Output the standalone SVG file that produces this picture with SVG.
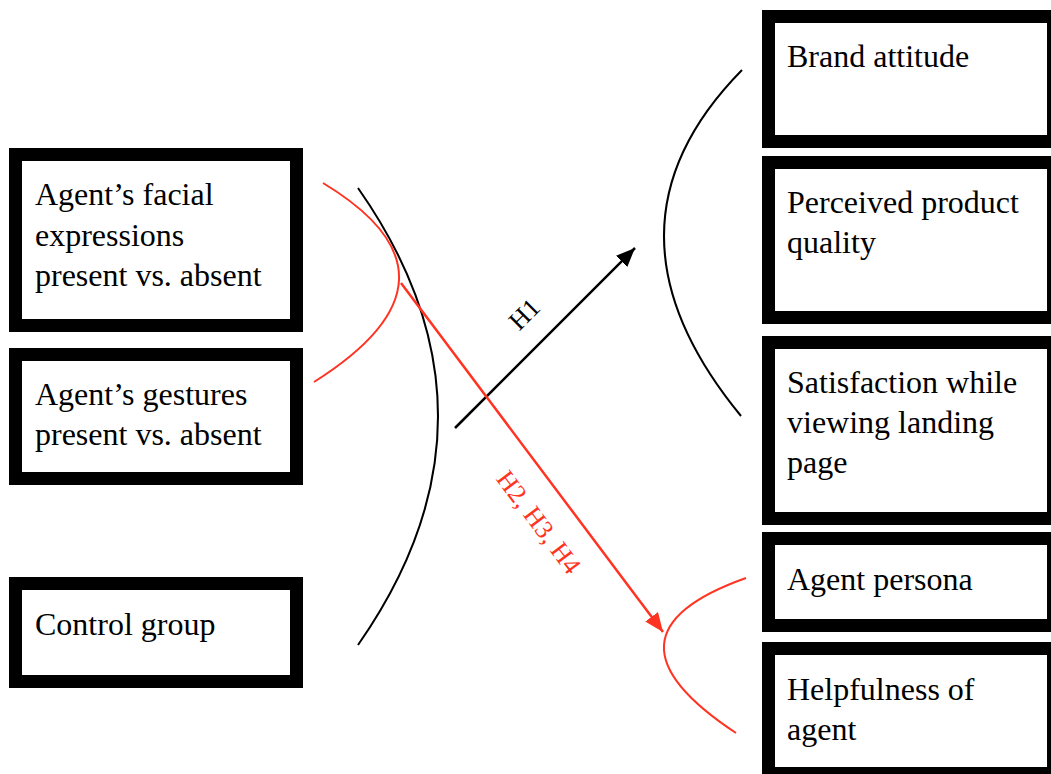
<svg xmlns="http://www.w3.org/2000/svg" width="1051" height="774" viewBox="0 0 1051 774">
<style>
.box{fill:#ffffff;stroke:#000000;stroke-width:13}
.t{font-family:"Liberation Serif","Times New Roman",serif;font-size:32px;fill:#000000}
.lbl{font-family:"Liberation Serif","Times New Roman",serif;font-size:26px}
.bk{fill:none;stroke:#000000;stroke-width:2}
.rd{fill:none;stroke:#ff3322;stroke-width:2}
</style>
<defs>
<marker id="ahB" markerUnits="userSpaceOnUse" markerWidth="20" markerHeight="16" refX="19" refY="8" orient="auto">
<path d="M0,0 L19,8 L0,16 z" fill="#000000"/>
</marker>
<marker id="ahR" markerUnits="userSpaceOnUse" markerWidth="20" markerHeight="16" refX="19" refY="8" orient="auto">
<path d="M0,0 L19,8 L0,16 z" fill="#ff3322"/>
</marker>
</defs>
<rect width="1051" height="774" fill="#ffffff"/>
<g id="n-facial">
<rect class="box" x="15.5" y="154.5" width="281" height="171"/>
<text class="t" x="35" y="205">Agent’s facial</text>
<text class="t" x="35" y="245.5">expressions</text>
<text class="t" x="35" y="286">present vs. absent</text>
</g>
<g id="n-gestures">
<rect class="box" x="15.5" y="354.5" width="281" height="124"/>
<text class="t" x="35" y="405">Agent’s gestures</text>
<text class="t" x="35" y="445">present vs. absent</text>
</g>
<g id="n-control">
<rect class="box" x="15.5" y="583.5" width="281" height="98"/>
<text class="t" x="35" y="635">Control group</text>
</g>
<g id="n-brand">
<rect class="box" x="768.5" y="16.5" width="285" height="125"/>
<text class="t" x="787" y="67">Brand attitude</text>
</g>
<g id="n-quality">
<rect class="box" x="768.5" y="162.5" width="285" height="155"/>
<text class="t" x="787" y="213">Perceived product</text>
<text class="t" x="787" y="253">quality</text>
</g>
<g id="n-satisfaction">
<rect class="box" x="768.5" y="342.5" width="285" height="176"/>
<text class="t" x="787" y="393">Satisfaction while</text>
<text class="t" x="787" y="433">viewing landing</text>
<text class="t" x="787" y="473">page</text>
</g>
<g id="n-persona">
<rect class="box" x="768.5" y="538.5" width="285" height="87"/>
<text class="t" x="787" y="590">Agent persona</text>
</g>
<g id="n-helpfulness">
<rect class="box" x="768.5" y="648.5" width="285" height="125"/>
<text class="t" x="787" y="700">Helpfulness of</text>
<text class="t" x="787" y="740">agent</text>
</g>
<g id="connectors">
<path class="bk" d="M358,188 Q518,416 358,645"/>
<path class="rd" d="M323,183 Q479.5,277.5 314,382"/>
<path class="bk" d="M742,70 Q586.5,228 741,416"/>
<path class="rd" d="M746,578 Q587,634.5 736,733"/>
<line x1="455" y1="428" x2="635" y2="248" stroke="#000000" stroke-width="2.5" marker-end="url(#ahB)"/>
<line x1="401" y1="283" x2="663" y2="632" stroke="#ff3322" stroke-width="2.5" marker-end="url(#ahR)"/>
<text class="lbl" fill="#000000" text-anchor="middle" transform="translate(524,314) rotate(-45)" x="0" y="9">H1</text>
<text class="lbl" fill="#ff3322" text-anchor="middle" transform="translate(539,522) rotate(53)" x="0" y="9">H2, H3, H4</text>
</g>
</svg>
